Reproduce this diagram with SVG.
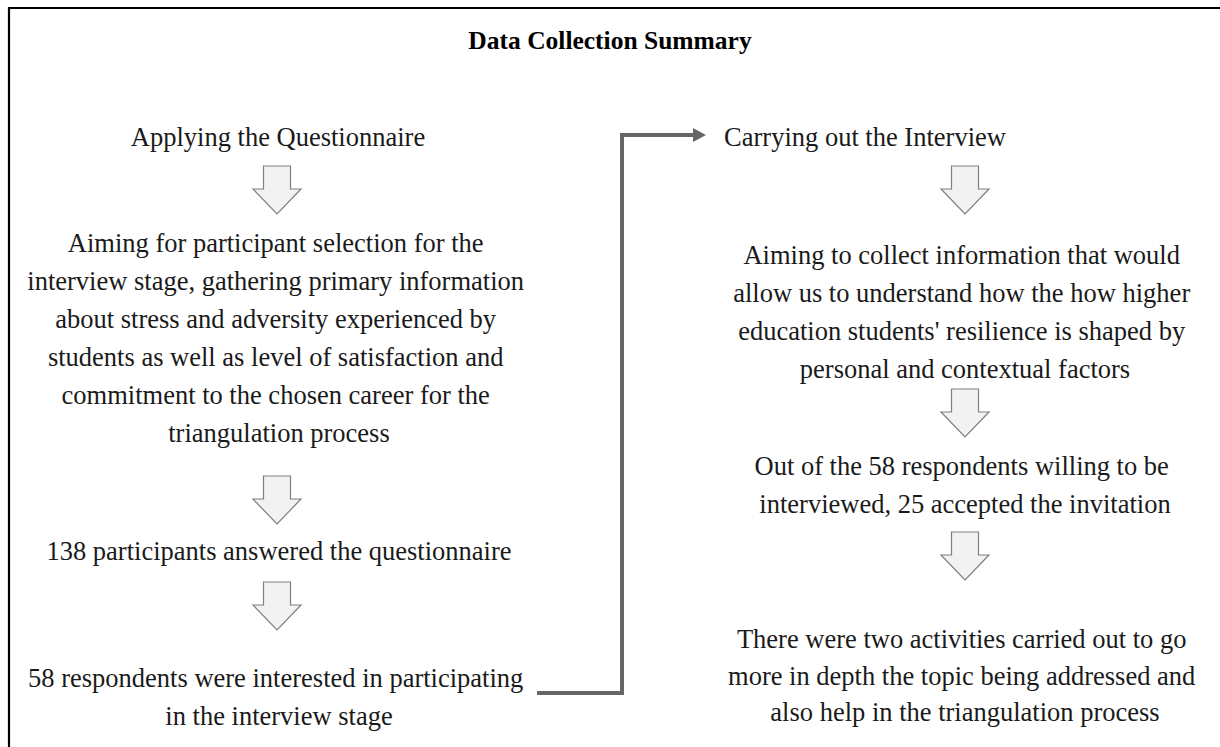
<svg xmlns="http://www.w3.org/2000/svg" width="1220" height="747" viewBox="0 0 1220 747">
<defs>
<style>
.t{font-family:"Liberation Serif","Times New Roman",serif;font-size:26.5px;fill:#1a1a1a;text-anchor:middle}
.title{font-family:"Liberation Serif","Times New Roman",serif;font-size:25.5px;font-weight:bold;fill:#000;text-anchor:middle}
.arr{fill:#f2f2f2;stroke:#7f7f7f;stroke-width:1.2}
.conn{fill:none;stroke:#666;stroke-width:4}
</style>
<path id="down" d="M-13.5,0 H13.5 V23 H24 L0,48 L-24,23 H-13.5 Z"/>
<marker id="ah" markerWidth="14" markerHeight="14" refX="0" refY="7" orient="auto" markerUnits="userSpaceOnUse">
<path d="M0,0 L13,7 L0,14 Z" fill="#666"/>
</marker>
</defs>
<rect width="1220" height="747" fill="#fff"/>
<g id="frame">
<path d="M9,747 V8 H1220" fill="none" stroke="#000" stroke-width="2.2"/>
</g>
<g id="title"><text class="title" x="610" y="49">Data Collection Summary</text></g>

<g id="connectors">
<path class="conn" d="M537,693 H622 V135 H693" marker-end="url(#ah)"/>
<use href="#down" class="arr" x="277" y="166"/>
<use href="#down" class="arr" x="277" y="476"/>
<use href="#down" class="arr" x="277" y="582"/>
<use href="#down" class="arr" x="965" y="166"/>
<use href="#down" class="arr" x="965" y="389"/>
<use href="#down" class="arr" x="965" y="532"/>
</g>

<g id="n1"><text class="t" x="278" y="146">Applying the Questionnaire</text></g>
<g id="n2"><text class="t" x="279">
<tspan x="279" y="252">Aiming for participant selection for the</tspan>
<tspan x="279" y="290">interview stage, gathering primary information</tspan>
<tspan x="279" y="328">about stress and adversity experienced by</tspan>
<tspan x="279" y="366">students as well as level of  satisfaction and</tspan>
<tspan x="279" y="404">commitment to the chosen career for the</tspan>
<tspan x="279" y="442">triangulation process</tspan>
</text></g>
<g id="n3"><text class="t" x="279" y="560">138 participants answered the questionnaire</text></g>
<g id="n4"><text class="t" x="279">
<tspan x="279" y="687">58 respondents were interested in participating</tspan>
<tspan x="279" y="725">in the interview stage</tspan>
</text></g>

<g id="n5"><text class="t" x="865" y="146">Carrying out the Interview</text></g>
<g id="n6"><text class="t" x="965">
<tspan x="965" y="264">Aiming to collect information that would</tspan>
<tspan x="965" y="302">allow us to understand how the how higher</tspan>
<tspan x="965" y="340">education students' resilience is shaped by</tspan>
<tspan x="965" y="378">personal and contextual factors</tspan>
</text></g>
<g id="n7"><text class="t" x="965">
<tspan x="965" y="475">Out of the 58 respondents willing to be</tspan>
<tspan x="965" y="513">interviewed, 25 accepted the invitation</tspan>
</text></g>
<g id="n8"><text class="t" x="965">
<tspan x="965" y="648">There were two activities carried out to go</tspan>
<tspan x="965" y="685">more in depth the topic being addressed and</tspan>
<tspan x="965" y="721">also help in the triangulation process</tspan>
</text></g>
</svg>
